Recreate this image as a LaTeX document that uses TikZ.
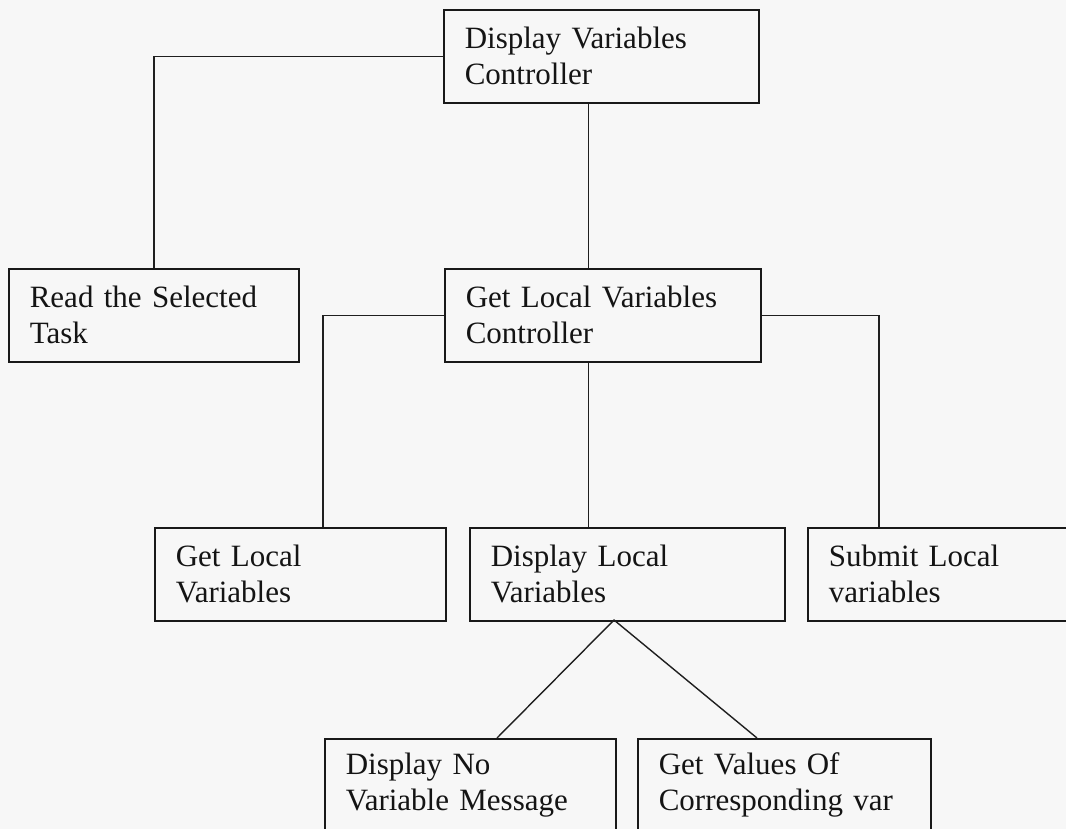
\documentclass[tikz,border=0pt]{standalone}
\usepackage{fontspec}
\setmainfont{Liberation Serif}
\begin{document}
\begin{tikzpicture}[x=1pt,y=-1pt,
  box/.style={draw=black!90, line width=1.6pt, rectangle, anchor=north west,
    minimum height=93pt, inner xsep=21pt, inner ysep=0pt, align=left,
    text=black!92, font=\fontsize{31}{36}\selectfont},
  link/.style={draw=black!88, line width=1.4pt}]
  % page area
  \fill[black!3] (0,0) rectangle (1066,829);
  \clip (0,0) rectangle (1066,829);

  % boxes (text width = box width - 42)
  \node[box, text width=273pt] (top)  at (443,9)   {Display Variables\\Controller};
  \node[box, text width=248pt] (read) at (8,268)   {Read the Selected\\Task};
  \node[box, text width=274pt] (glvc) at (444,268) {Get Local Variables\\Controller};
  \node[box, text width=249pt] (gl)   at (154,527) {Get Local\\Variables};
  \node[box, text width=273pt] (dl)   at (469,527) {Display Local\\Variables};
  \node[box, text width=250pt] (sub)  at (807,527) {Submit Local\\variables};
  \node[box, text width=249pt] (dn)   at (324,738) {Display No\\Variable Message};
  \node[box, text width=251pt] (gv)   at (637,738) {Get Values Of\\Corresponding var};

  % branch positions
  \coordinate (xmid)   at (588.5,0);
  \coordinate (xleft)  at (323,0);
  \coordinate (xright) at (879,0);
  \coordinate (apex)   at (614,620);
  \coordinate (dnend)  at (497,738);
  \coordinate (gvend)  at (757,738);

  % connectors
  \draw[link] (top.west) -| (read.north);
  \draw[link] (top.south -| xmid) -- (glvc.north -| xmid);
  \draw[link] (glvc.west) -| (gl.north -| xleft);
  \draw[link] (glvc.east) -| (sub.north -| xright);
  \draw[link] (glvc.south -| xmid) -- (dl.north -| xmid);
  \draw[link] (dnend) -- (apex) -- (gvend);
\end{tikzpicture}
\end{document}
